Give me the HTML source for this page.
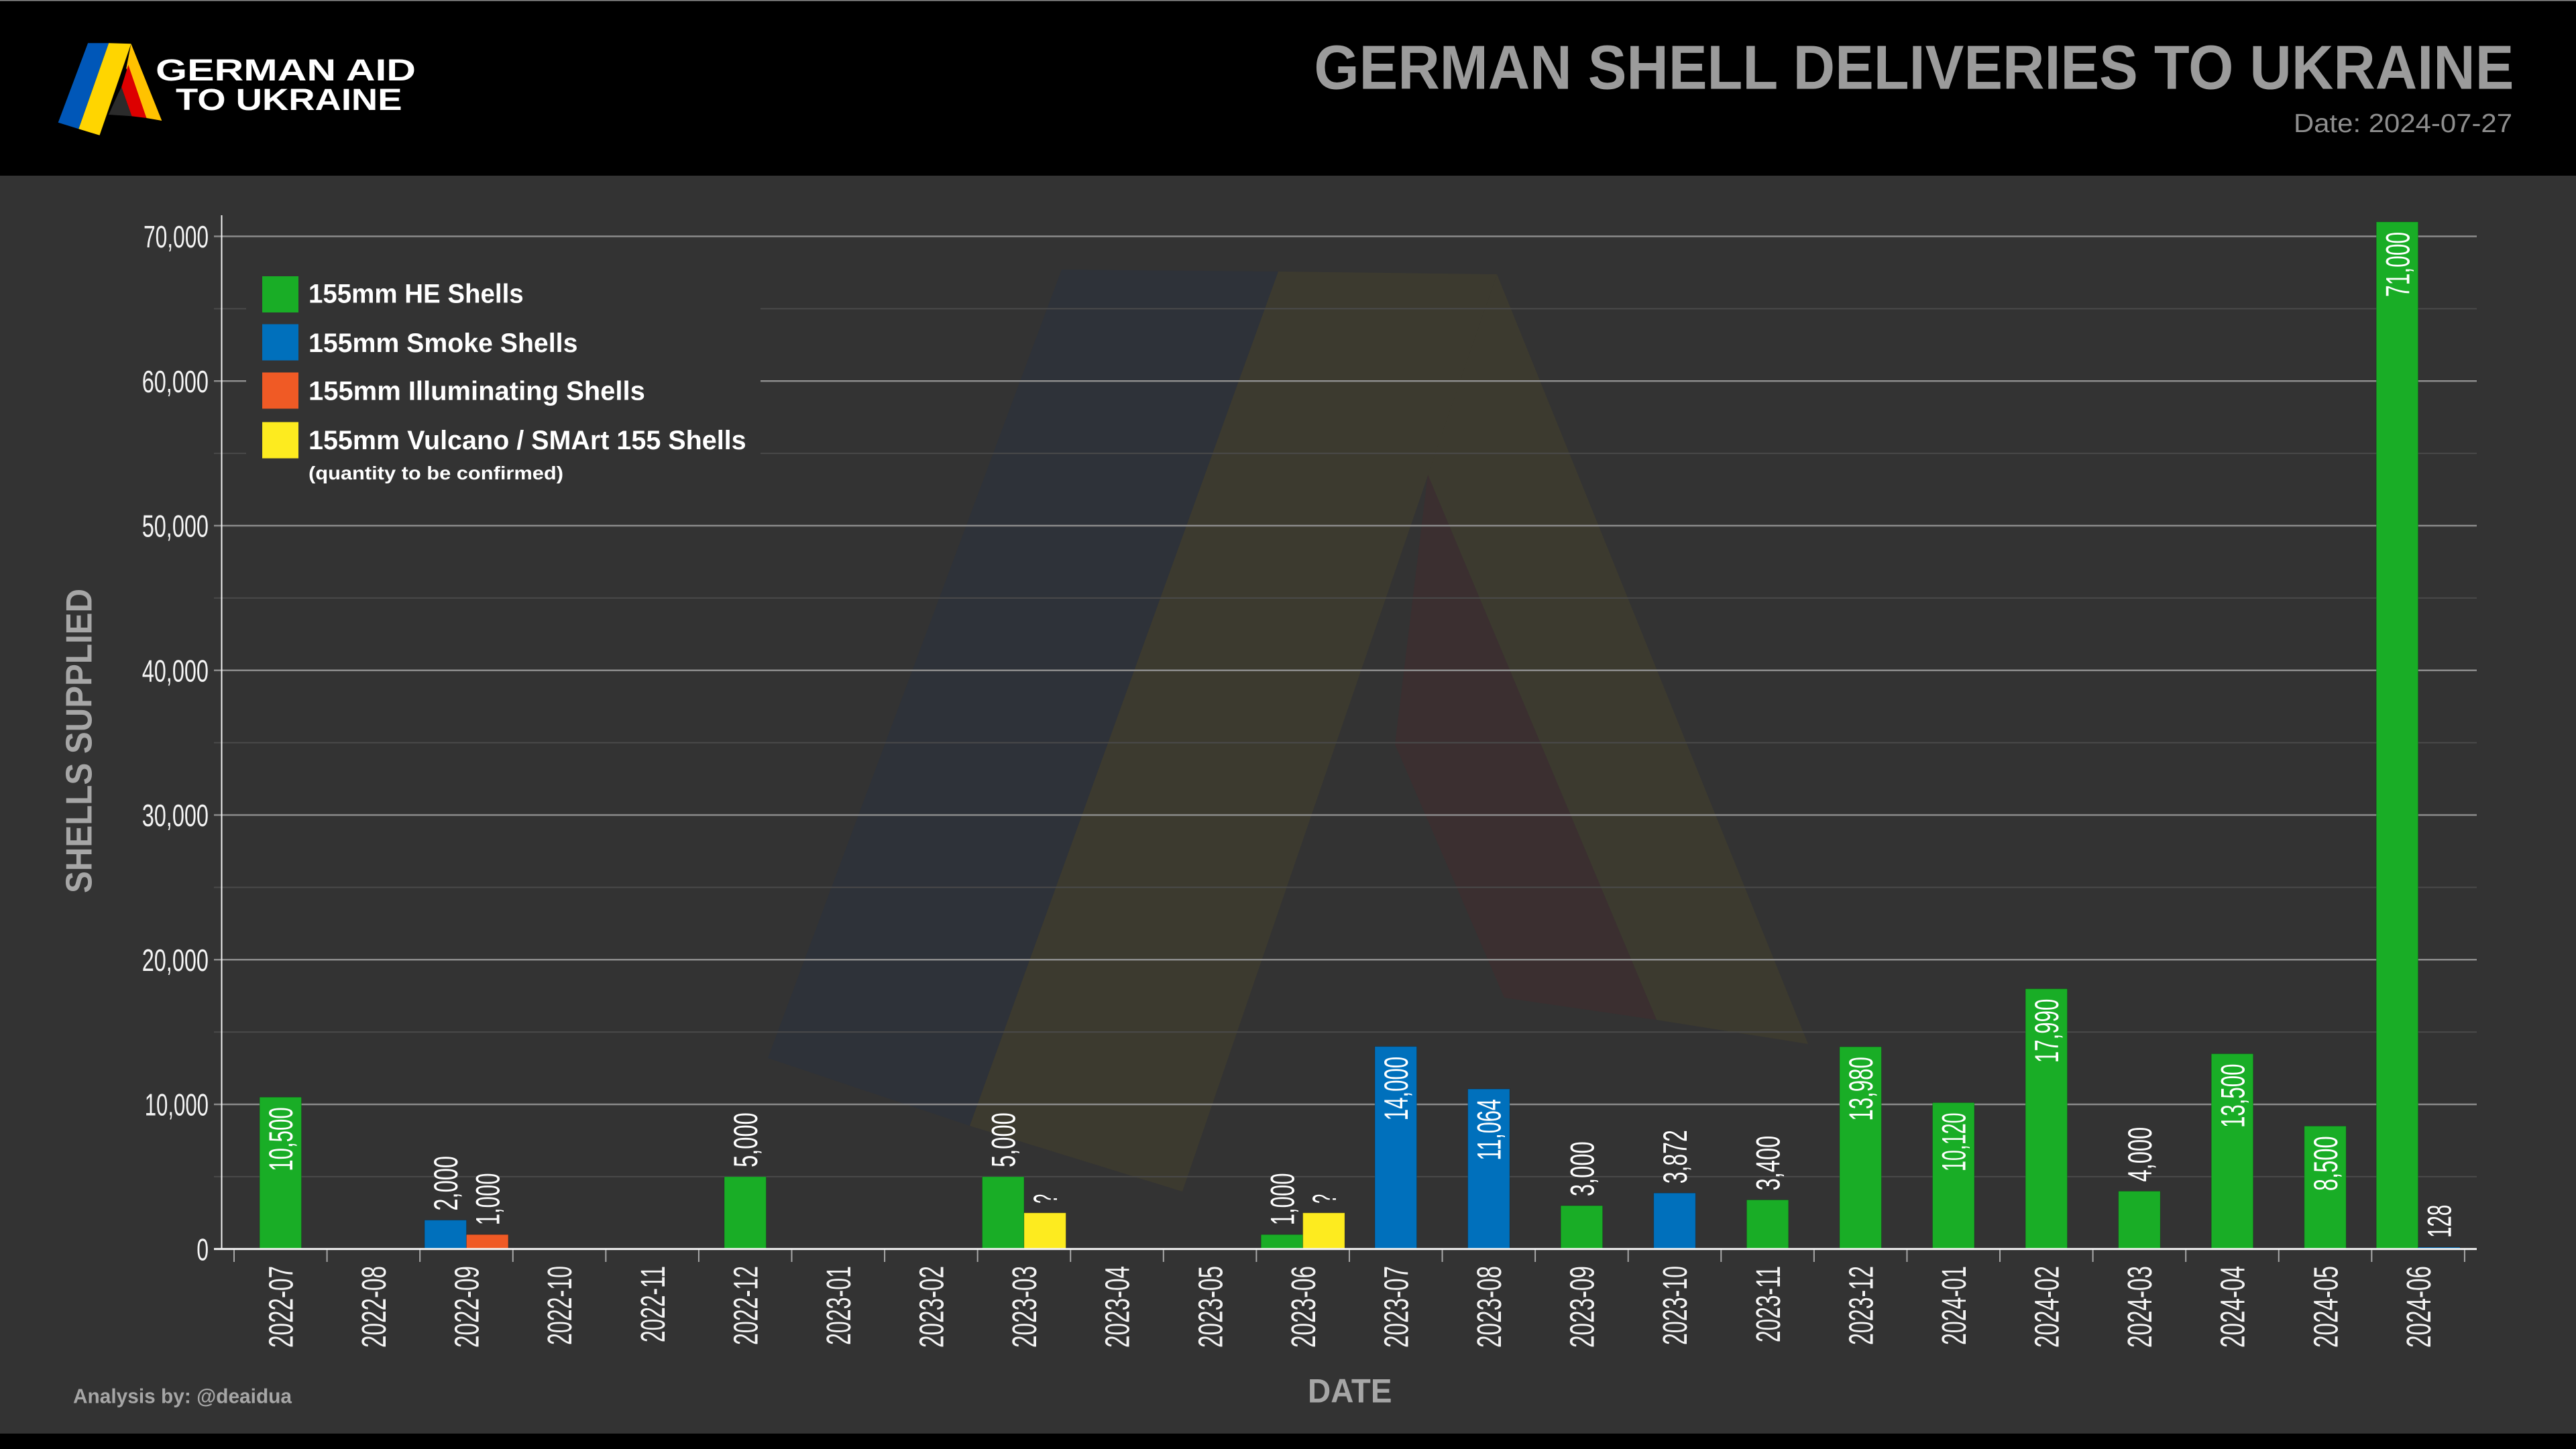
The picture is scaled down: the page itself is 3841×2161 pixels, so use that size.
<!DOCTYPE html>
<html><head><meta charset="utf-8"><style>
html,body{margin:0;padding:0;background:#000;width:3841px;height:2161px;overflow:hidden}
svg{display:block}
text{font-family:"Liberation Sans",sans-serif}
.bl{font-size:50px;fill:#fff}
.xl{font-size:51px;fill:#f4f4f4}
.yl{font-size:46.5px;fill:#f4f4f4;text-anchor:end}
.lg{font-size:40px;fill:#fff;font-weight:bold}
</style></head><body>
<svg width="3841" height="2161" viewBox="0 0 3841 2161" xmlns="http://www.w3.org/2000/svg">
<rect x="0" y="0" width="3841" height="2161" fill="#000"/>
<rect x="0" y="262" width="3841" height="1876" fill="#333333"/>
<rect x="0" y="0" width="3841" height="1.5" fill="#8a8a8a"/>

<!-- header logo -->
<polygon points="131.1,64.3 162.2,64.3 117.3,192.3 86.7,182.7" fill="#0057b8"/>
<polygon points="162.2,64.3 195.4,65.3 148.5,201.7 117.3,192.3" fill="#ffd500"/>
<polygon points="195.4,65.3 241.3,180 218.4,176 188.3,101.7" fill="#ffc200"/>
<polygon points="191.3,96.7 218.4,176 196.4,173.3 181.1,130" fill="#dd0000"/>
<polygon points="181.1,130 196.4,173.3 162,171 176,140" fill="#2b2b2b"/>
<text x="232" y="120" font-size="45" font-weight="bold" fill="#fff" textLength="388" lengthAdjust="spacingAndGlyphs">GERMAN AID</text>
<text x="262" y="164" font-size="45" font-weight="bold" fill="#fff" textLength="337.5" lengthAdjust="spacingAndGlyphs">TO UKRAINE</text>

<!-- title -->
<text x="1959.4" y="132.7" font-size="93" font-weight="bold" fill="#9b9b9b" textLength="1789" lengthAdjust="spacingAndGlyphs">GERMAN SHELL DELIVERIES TO UKRAINE</text>
<text x="3420" y="197" font-size="39" fill="#8e8e8e" textLength="326" lengthAdjust="spacingAndGlyphs">Date: 2024-07-27</text>

<!-- watermark -->
<polygon points="1583,402 1906,405 1446,1679 1145,1578" fill="#2e3239"/>
<polygon points="1906,405 2232,409 1763,1777 1446,1679" fill="#3c3a2f"/>
<polygon points="2232,409 2696,1557 2470,1521 2129,708" fill="#3c3a2f"/>
<polygon points="2129,708 2470,1521 2243,1488 2080,1110" fill="#3b2f30"/>

<!-- minor gridlines -->
<g stroke="#4a4a4a" stroke-width="2">
<line x1="319" x2="3693" y1="1754.92" y2="1754.92"/>
<line x1="319" x2="3693" y1="1539.16" y2="1539.16"/>
<line x1="319" x2="3693" y1="1323.4" y2="1323.4"/>
<line x1="319" x2="3693" y1="1107.64" y2="1107.64"/>
<line x1="319" x2="3693" y1="891.88" y2="891.88"/>
<line x1="319" x2="3693" y1="676.12" y2="676.12"/>
<line x1="319" x2="3693" y1="460.36" y2="460.36"/>
</g>
<!-- major gridlines -->
<g stroke="#8c8c8c" stroke-width="2.5">
<line x1="319" x2="3693" y1="1647.04" y2="1647.04"/>
<line x1="319" x2="3693" y1="1431.28" y2="1431.28"/>
<line x1="319" x2="3693" y1="1215.52" y2="1215.52"/>
<line x1="319" x2="3693" y1="999.76" y2="999.76"/>
<line x1="319" x2="3693" y1="784" y2="784"/>
<line x1="319" x2="3693" y1="568.24" y2="568.24"/>
<line x1="319" x2="3693" y1="352.48" y2="352.48"/>
</g>

<!-- legend -->
<rect x="367" y="385" width="767" height="360" fill="#333333"/>
<rect x="391" y="412" width="54" height="54" fill="#19ad26"/>
<rect x="391" y="483.5" width="54" height="54" fill="#0070bc"/>
<rect x="391" y="555.5" width="54" height="54" fill="#f05a25"/>
<rect x="391" y="629.5" width="54" height="54" fill="#fdeb1f"/>
<text class="lg" x="460" y="451.7" textLength="320.7" lengthAdjust="spacingAndGlyphs">155mm HE Shells</text>
<text class="lg" x="460" y="525" textLength="401.4" lengthAdjust="spacingAndGlyphs">155mm Smoke Shells</text>
<text class="lg" x="460" y="596.7" textLength="501.8" lengthAdjust="spacingAndGlyphs">155mm Illuminating Shells</text>
<text class="lg" x="460" y="670" textLength="652.6" lengthAdjust="spacingAndGlyphs">155mm Vulcano / SMArt 155 Shells</text>
<text x="460" y="715" font-size="28" font-weight="bold" fill="#fff" textLength="380" lengthAdjust="spacingAndGlyphs">(quantity to be confirmed)</text>

<!-- bars -->
<g stroke="rgba(0,0,0,0.18)" stroke-width="1">
<rect x="387.09" y="1636.25" width="62.4" height="226.55" fill="#19ad26"/>
<rect x="633.05" y="1819.65" width="62.4" height="43.15" fill="#0070bc"/>
<rect x="695.45" y="1841.22" width="62.4" height="21.58" fill="#f05a25"/>
<rect x="1079.99" y="1754.92" width="62.4" height="107.88" fill="#19ad26"/>
<rect x="1464.53" y="1754.92" width="62.4" height="107.88" fill="#19ad26"/>
<rect x="1526.93" y="1808.86" width="62.4" height="53.94" fill="#fdeb1f"/>
<rect x="1880.27" y="1841.22" width="62.4" height="21.58" fill="#19ad26"/>
<rect x="1942.67" y="1808.86" width="62.4" height="53.94" fill="#fdeb1f"/>
<rect x="2050.05" y="1560.74" width="62.4" height="302.06" fill="#0070bc"/>
<rect x="2188.63" y="1624.08" width="62.4" height="238.72" fill="#0070bc"/>
<rect x="2327.21" y="1798.07" width="62.4" height="64.73" fill="#19ad26"/>
<rect x="2465.79" y="1779.26" width="62.4" height="83.54" fill="#0070bc"/>
<rect x="2604.37" y="1789.44" width="62.4" height="73.36" fill="#19ad26"/>
<rect x="2742.95" y="1561.17" width="62.4" height="301.63" fill="#19ad26"/>
<rect x="2881.53" y="1644.45" width="62.4" height="218.35" fill="#19ad26"/>
<rect x="3020.11" y="1474.65" width="62.4" height="388.15" fill="#19ad26"/>
<rect x="3158.69" y="1776.5" width="62.4" height="86.3" fill="#19ad26"/>
<rect x="3297.27" y="1571.52" width="62.4" height="291.28" fill="#19ad26"/>
<rect x="3435.85" y="1679.4" width="62.4" height="183.4" fill="#19ad26"/>
<rect x="3543.23" y="330.9" width="62.4" height="1531.9" fill="#19ad26"/>
<rect x="3605.63" y="1860.04" width="62.4" height="2.76" fill="#0070bc"/>
</g>

<!-- bar labels -->
<g class="bl">
<text transform="translate(436.2,1651.25) rotate(-90)" text-anchor="end" textLength="95.5" lengthAdjust="spacingAndGlyphs">10,500</text>
<text transform="translate(682.15,1805.65) rotate(-90)" textLength="81.7" lengthAdjust="spacingAndGlyphs">2,000</text>
<text transform="translate(744.55,1827.22) rotate(-90)" textLength="77.7" lengthAdjust="spacingAndGlyphs">1,000</text>
<text transform="translate(1129.1,1740.92) rotate(-90)" textLength="81.7" lengthAdjust="spacingAndGlyphs">5,000</text>
<text transform="translate(1513.63,1740.92) rotate(-90)" textLength="81.7" lengthAdjust="spacingAndGlyphs">5,000</text>
<text transform="translate(1576.03,1794.86) rotate(-90)" textLength="14" lengthAdjust="spacingAndGlyphs">?</text>
<text transform="translate(1929.37,1827.22) rotate(-90)" textLength="77.7" lengthAdjust="spacingAndGlyphs">1,000</text>
<text transform="translate(1991.77,1794.86) rotate(-90)" textLength="14" lengthAdjust="spacingAndGlyphs">?</text>
<text transform="translate(2099.15,1575.74) rotate(-90)" text-anchor="end" textLength="95.5" lengthAdjust="spacingAndGlyphs">14,000</text>
<text transform="translate(2237.73,1639.08) rotate(-90)" text-anchor="end" textLength="91.5" lengthAdjust="spacingAndGlyphs">11,064</text>
<text transform="translate(2376.31,1784.07) rotate(-90)" textLength="81.7" lengthAdjust="spacingAndGlyphs">3,000</text>
<text transform="translate(2514.89,1765.26) rotate(-90)" textLength="80" lengthAdjust="spacingAndGlyphs">3,872</text>
<text transform="translate(2653.47,1775.44) rotate(-90)" textLength="81.7" lengthAdjust="spacingAndGlyphs">3,400</text>
<text transform="translate(2792.05,1576.17) rotate(-90)" text-anchor="end" textLength="95.5" lengthAdjust="spacingAndGlyphs">13,980</text>
<text transform="translate(2930.63,1659.45) rotate(-90)" text-anchor="end" textLength="87.5" lengthAdjust="spacingAndGlyphs">10,120</text>
<text transform="translate(3069.21,1489.65) rotate(-90)" text-anchor="end" textLength="95.5" lengthAdjust="spacingAndGlyphs">17,990</text>
<text transform="translate(3207.79,1762.5) rotate(-90)" textLength="81.7" lengthAdjust="spacingAndGlyphs">4,000</text>
<text transform="translate(3346.37,1586.52) rotate(-90)" text-anchor="end" textLength="95.5" lengthAdjust="spacingAndGlyphs">13,500</text>
<text transform="translate(3484.95,1694.4) rotate(-90)" text-anchor="end" textLength="81.7" lengthAdjust="spacingAndGlyphs">8,500</text>
<text transform="translate(3592.33,345.9) rotate(-90)" text-anchor="end" textLength="97" lengthAdjust="spacingAndGlyphs">71,000</text>
<text transform="translate(3654.73,1846.04) rotate(-90)" textLength="49.4" lengthAdjust="spacingAndGlyphs">128</text>
</g>

<!-- axes -->
<line x1="330.5" y1="321" x2="330.5" y2="1864" stroke="#f2f2f2" stroke-width="2"/>
<line x1="319" y1="1862.8" x2="3693" y2="1862.8" stroke="#f2f2f2" stroke-width="3"/>
<g stroke="#a8a8a8" stroke-width="2">
<line x1="349" x2="349" y1="1864" y2="1882"/>
<line x1="487.58" x2="487.58" y1="1864" y2="1882"/>
<line x1="626.16" x2="626.16" y1="1864" y2="1882"/>
<line x1="764.74" x2="764.74" y1="1864" y2="1882"/>
<line x1="903.32" x2="903.32" y1="1864" y2="1882"/>
<line x1="1041.9" x2="1041.9" y1="1864" y2="1882"/>
<line x1="1180.48" x2="1180.48" y1="1864" y2="1882"/>
<line x1="1319.06" x2="1319.06" y1="1864" y2="1882"/>
<line x1="1457.64" x2="1457.64" y1="1864" y2="1882"/>
<line x1="1596.22" x2="1596.22" y1="1864" y2="1882"/>
<line x1="1734.8" x2="1734.8" y1="1864" y2="1882"/>
<line x1="1873.38" x2="1873.38" y1="1864" y2="1882"/>
<line x1="2011.96" x2="2011.96" y1="1864" y2="1882"/>
<line x1="2150.54" x2="2150.54" y1="1864" y2="1882"/>
<line x1="2289.12" x2="2289.12" y1="1864" y2="1882"/>
<line x1="2427.7" x2="2427.7" y1="1864" y2="1882"/>
<line x1="2566.28" x2="2566.28" y1="1864" y2="1882"/>
<line x1="2704.86" x2="2704.86" y1="1864" y2="1882"/>
<line x1="2843.44" x2="2843.44" y1="1864" y2="1882"/>
<line x1="2982.02" x2="2982.02" y1="1864" y2="1882"/>
<line x1="3120.6" x2="3120.6" y1="1864" y2="1882"/>
<line x1="3259.18" x2="3259.18" y1="1864" y2="1882"/>
<line x1="3397.76" x2="3397.76" y1="1864" y2="1882"/>
<line x1="3536.34" x2="3536.34" y1="1864" y2="1882"/>
<line x1="3674.92" x2="3674.92" y1="1864" y2="1882"/>
</g>

<!-- y labels -->
<g class="yl">
<text x="311" y="1879.4" textLength="17.8" lengthAdjust="spacingAndGlyphs">0</text>
<text x="311" y="1663.6" textLength="95.3" lengthAdjust="spacingAndGlyphs">10,000</text>
<text x="311" y="1447.9" textLength="99.3" lengthAdjust="spacingAndGlyphs">20,000</text>
<text x="311" y="1232.1" textLength="99.3" lengthAdjust="spacingAndGlyphs">30,000</text>
<text x="311" y="1016.4" textLength="99.3" lengthAdjust="spacingAndGlyphs">40,000</text>
<text x="311" y="800.6" textLength="99.3" lengthAdjust="spacingAndGlyphs">50,000</text>
<text x="311" y="584.8" textLength="99.3" lengthAdjust="spacingAndGlyphs">60,000</text>
<text x="311" y="369.1" textLength="97" lengthAdjust="spacingAndGlyphs">70,000</text>
</g>

<!-- x labels -->
<g class="xl" text-anchor="end">
<text transform="translate(436.5,1888) rotate(-90)" textLength="122" lengthAdjust="spacingAndGlyphs">2022-07</text>
<text transform="translate(575.07,1888) rotate(-90)" textLength="122" lengthAdjust="spacingAndGlyphs">2022-08</text>
<text transform="translate(713.65,1888) rotate(-90)" textLength="122" lengthAdjust="spacingAndGlyphs">2022-09</text>
<text transform="translate(852.23,1888) rotate(-90)" textLength="118" lengthAdjust="spacingAndGlyphs">2022-10</text>
<text transform="translate(990.81,1888) rotate(-90)" textLength="114" lengthAdjust="spacingAndGlyphs">2022-11</text>
<text transform="translate(1129.39,1888) rotate(-90)" textLength="118" lengthAdjust="spacingAndGlyphs">2022-12</text>
<text transform="translate(1267.97,1888) rotate(-90)" textLength="118" lengthAdjust="spacingAndGlyphs">2023-01</text>
<text transform="translate(1406.55,1888) rotate(-90)" textLength="122" lengthAdjust="spacingAndGlyphs">2023-02</text>
<text transform="translate(1545.13,1888) rotate(-90)" textLength="122" lengthAdjust="spacingAndGlyphs">2023-03</text>
<text transform="translate(1683.71,1888) rotate(-90)" textLength="122" lengthAdjust="spacingAndGlyphs">2023-04</text>
<text transform="translate(1822.29,1888) rotate(-90)" textLength="122" lengthAdjust="spacingAndGlyphs">2023-05</text>
<text transform="translate(1960.87,1888) rotate(-90)" textLength="122" lengthAdjust="spacingAndGlyphs">2023-06</text>
<text transform="translate(2099.45,1888) rotate(-90)" textLength="122" lengthAdjust="spacingAndGlyphs">2023-07</text>
<text transform="translate(2238.03,1888) rotate(-90)" textLength="122" lengthAdjust="spacingAndGlyphs">2023-08</text>
<text transform="translate(2376.61,1888) rotate(-90)" textLength="122" lengthAdjust="spacingAndGlyphs">2023-09</text>
<text transform="translate(2515.19,1888) rotate(-90)" textLength="118" lengthAdjust="spacingAndGlyphs">2023-10</text>
<text transform="translate(2653.77,1888) rotate(-90)" textLength="114" lengthAdjust="spacingAndGlyphs">2023-11</text>
<text transform="translate(2792.35,1888) rotate(-90)" textLength="118" lengthAdjust="spacingAndGlyphs">2023-12</text>
<text transform="translate(2930.93,1888) rotate(-90)" textLength="118" lengthAdjust="spacingAndGlyphs">2024-01</text>
<text transform="translate(3069.51,1888) rotate(-90)" textLength="122" lengthAdjust="spacingAndGlyphs">2024-02</text>
<text transform="translate(3208.09,1888) rotate(-90)" textLength="122" lengthAdjust="spacingAndGlyphs">2024-03</text>
<text transform="translate(3346.67,1888) rotate(-90)" textLength="122" lengthAdjust="spacingAndGlyphs">2024-04</text>
<text transform="translate(3485.25,1888) rotate(-90)" textLength="122" lengthAdjust="spacingAndGlyphs">2024-05</text>
<text transform="translate(3623.83,1888) rotate(-90)" textLength="122" lengthAdjust="spacingAndGlyphs">2024-06</text>
</g>

<!-- axis titles -->
<text transform="translate(136.7,1105) rotate(-90)" text-anchor="middle" font-size="55" font-weight="bold" fill="#a6a6a6" textLength="454" lengthAdjust="spacingAndGlyphs">SHELLS SUPPLIED</text>
<text x="1950" y="2091.7" font-size="50" font-weight="bold" fill="#a6a6a6" textLength="125.5" lengthAdjust="spacingAndGlyphs">DATE</text>
<text x="109" y="2092.3" font-size="31" font-weight="bold" fill="#a6a6a6" textLength="326" lengthAdjust="spacingAndGlyphs">Analysis by: @deaidua</text>
</svg>
</body></html>
